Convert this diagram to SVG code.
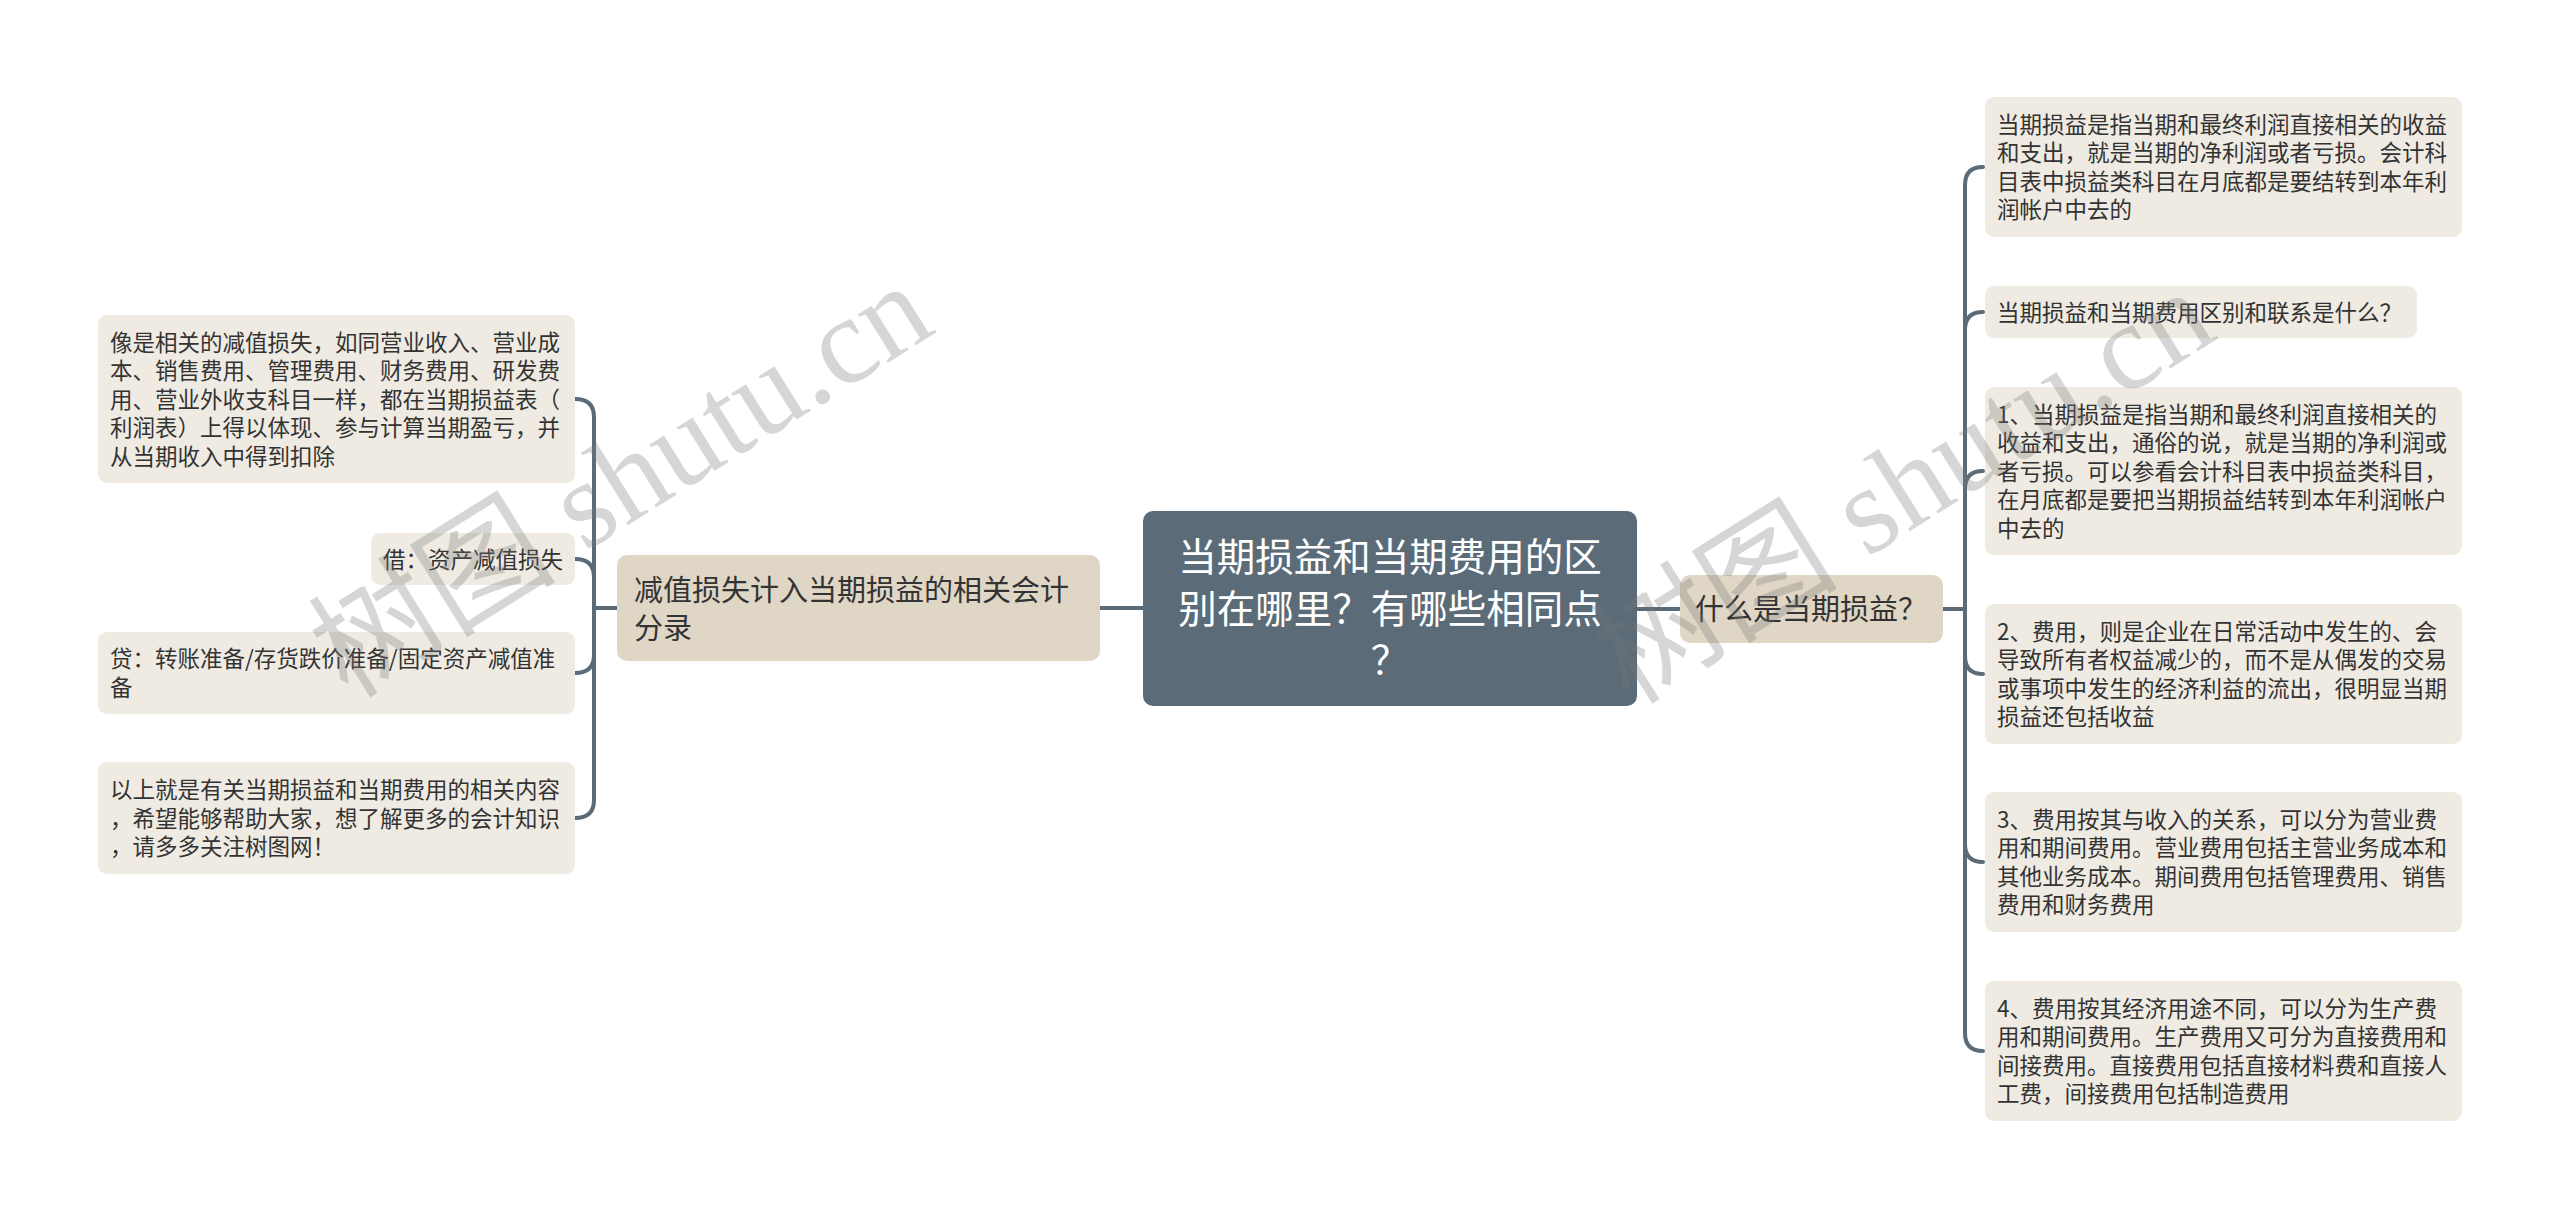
<svg xmlns="http://www.w3.org/2000/svg" width="2560" height="1218" viewBox="0 0 2560 1218">
<defs>
<style>
.bg{fill:#ffffff}
.ln{fill:none;stroke:#5b6b78;stroke-width:4;stroke-linecap:round}
.ctr{fill:#5b6b78}
.main{fill:#e0d6c6}
.leaf{fill:#efebe3}
.t{font-family:"Noto Sans CJK SC","Noto Sans",sans-serif;fill:#333333}
.tc{font-family:"Noto Sans CJK SC","Noto Sans",sans-serif;fill:#ffffff;font-size:38.5px}
.tm{font-size:29px}
.tl{font-size:22.5px}
.wm{font-family:"Liberation Serif","Noto Sans CJK SC",serif;font-size:124px;fill:#777777;fill-opacity:0.3}
</style>
</defs>
<rect class="bg" x="0" y="0" width="2560" height="1218"/>

<g id="connectors">
<path class="ln" d="M1143,608 H1100"/>
<path class="ln" d="M1637,609 H1680"/>
<path class="ln" d="M617,608 H594"/>
<path class="ln" d="M575,399 Q594,399 594,417 V800 Q594,818 575,818"/>
<path class="ln" d="M594,577 Q594,559 575,559"/>
<path class="ln" d="M594,655 Q594,673 575,673"/>
<path class="ln" d="M1943,609 H1965"/>
<path class="ln" d="M1983,167 Q1965,167 1965,185 V1033 Q1965,1051 1983,1051"/>
<path class="ln" d="M1965,330 Q1965,312 1983,312"/>
<path class="ln" d="M1965,489 Q1965,471 1983,471"/>
<path class="ln" d="M1965,656 Q1965,674 1983,674"/>
<path class="ln" d="M1965,844 Q1965,862 1983,862"/>
</g>

<g id="center">
<rect class="ctr" x="1143" y="511" width="494" height="195" rx="10"/>
<text class="tc" text-anchor="middle" x="1390" y="571"><tspan x="1390">当期损益和当期费用的区</tspan><tspan x="1390" dy="51.5">别在哪里？有哪些相同点</tspan><tspan x="1390" dy="51.5">？</tspan></text>
</g>

<g id="main-left">
<rect class="main" x="617" y="555" width="483" height="106" rx="10"/>
<text class="t tm" x="634" y="601"><tspan x="634">减值损失计入当期损益的相关会计</tspan><tspan x="634" dy="38">分录</tspan></text>
</g>

<g id="main-right">
<rect class="main" x="1680" y="575" width="263" height="68" rx="10"/>
<text class="t tm" x="1695" y="620">什么是当期损益？</text>
</g>

<g id="l1">
<rect class="leaf" x="98" y="315" width="477" height="168" rx="9"/>
<text class="t tl" x="110" y="350.5"><tspan x="110">像是相关的减值损失，如同营业收入、营业成</tspan><tspan x="110" dy="28.5">本、销售费用、管理费用、财务费用、研发费</tspan><tspan x="110" dy="28.5">用、营业外收支科目一样，都在当期损益表（</tspan><tspan x="110" dy="28.5">利润表）上得以体现、参与计算当期盈亏，并</tspan><tspan x="110" dy="28.5">从当期收入中得到扣除</tspan></text>
</g>

<g id="l2">
<rect class="leaf" x="371" y="533" width="204" height="52" rx="9"/>
<text class="t tl" x="383" y="567.5">借：资产减值损失</text>
</g>

<g id="l3">
<rect class="leaf" x="98" y="632" width="477" height="82" rx="9"/>
<text class="t tl" x="110" y="667.3"><tspan x="110">贷：转账准备/存货跌价准备/固定资产减值准</tspan><tspan x="110" dy="28.5">备</tspan></text>
</g>

<g id="l4">
<rect class="leaf" x="98" y="762" width="477" height="112" rx="9"/>
<text class="t tl" x="110" y="798"><tspan x="110">以上就是有关当期损益和当期费用的相关内容</tspan><tspan x="110" dy="28.5">，希望能够帮助大家，想了解更多的会计知识</tspan><tspan x="110" dy="28.5">，请多多关注树图网！</tspan></text>
</g>

<g id="r1">
<rect class="leaf" x="1985" y="97" width="477" height="140" rx="9"/>
<text class="t tl" x="1997" y="132.8"><tspan x="1997">当期损益是指当期和最终利润直接相关的收益</tspan><tspan x="1997" dy="28.5">和支出，就是当期的净利润或者亏损。会计科</tspan><tspan x="1997" dy="28.5">目表中损益类科目在月底都是要结转到本年利</tspan><tspan x="1997" dy="28.5">润帐户中去的</tspan></text>
</g>

<g id="r2">
<rect class="leaf" x="1985" y="286" width="432" height="52" rx="9"/>
<text class="t tl" x="1997" y="320.5">当期损益和当期费用区别和联系是什么？</text>
</g>

<g id="r3">
<rect class="leaf" x="1985" y="387" width="477" height="168" rx="9"/>
<text class="t tl" x="1997" y="422.5"><tspan x="1997">1、当期损益是指当期和最终利润直接相关的</tspan><tspan x="1997" dy="28.5">收益和支出，通俗的说，就是当期的净利润或</tspan><tspan x="1997" dy="28.5">者亏损。可以参看会计科目表中损益类科目，</tspan><tspan x="1997" dy="28.5">在月底都是要把当期损益结转到本年利润帐户</tspan><tspan x="1997" dy="28.5">中去的</tspan></text>
</g>

<g id="r4">
<rect class="leaf" x="1985" y="604" width="477" height="140" rx="9"/>
<text class="t tl" x="1997" y="639.8"><tspan x="1997">2、费用，则是企业在日常活动中发生的、会</tspan><tspan x="1997" dy="28.5">导致所有者权益减少的，而不是从偶发的交易</tspan><tspan x="1997" dy="28.5">或事项中发生的经济利益的流出，很明显当期</tspan><tspan x="1997" dy="28.5">损益还包括收益</tspan></text>
</g>

<g id="r5">
<rect class="leaf" x="1985" y="792" width="477" height="140" rx="9"/>
<text class="t tl" x="1997" y="827.8"><tspan x="1997">3、费用按其与收入的关系，可以分为营业费</tspan><tspan x="1997" dy="28.5">用和期间费用。营业费用包括主营业务成本和</tspan><tspan x="1997" dy="28.5">其他业务成本。期间费用包括管理费用、销售</tspan><tspan x="1997" dy="28.5">费用和财务费用</tspan></text>
</g>

<g id="r6">
<rect class="leaf" x="1985" y="981" width="477" height="140" rx="9"/>
<text class="t tl" x="1997" y="1016.8"><tspan x="1997">4、费用按其经济用途不同，可以分为生产费</tspan><tspan x="1997" dy="28.5">用和期间费用。生产费用又可分为直接费用和</tspan><tspan x="1997" dy="28.5">间接费用。直接费用包括直接材料费和直接人</tspan><tspan x="1997" dy="28.5">工费，间接费用包括制造费用</tspan></text>
</g>

<g id="watermarks">
<text class="wm" transform="translate(348,700) rotate(-32)">树图 shutu.cn</text>
<text class="wm" transform="translate(1630,706) rotate(-32)">树图 shutu.cn</text>
</g>
</svg>
